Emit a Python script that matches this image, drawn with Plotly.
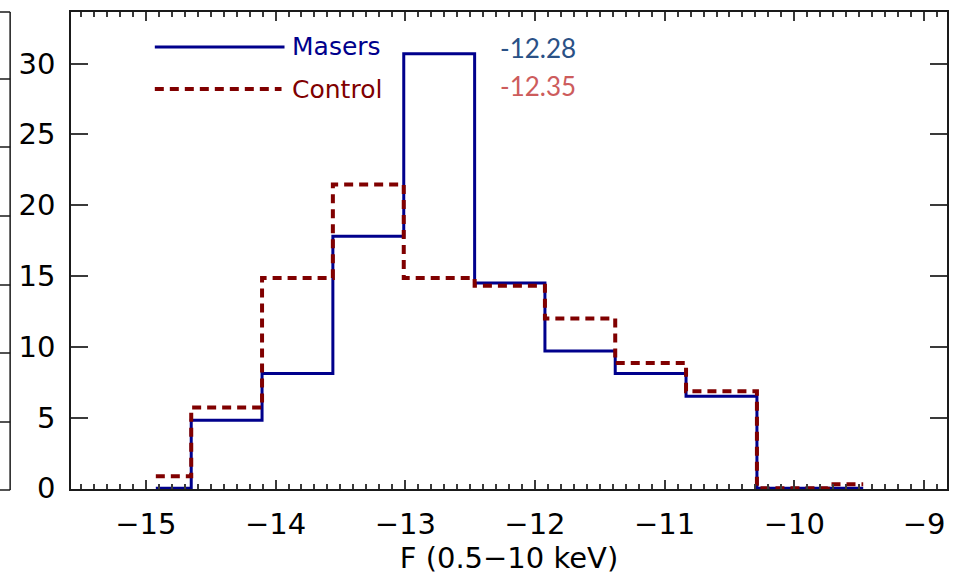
import plotly.graph_objects as go

# Histogram bin centres (log flux) and percentages per bin
flux_centres = [-14.923, -14.377, -13.831, -13.285, -12.738, -12.192,
                -11.654, -11.108, -10.562, -10.015, -9.469]
masers_pct = [0.0, 4.8, 8.1, 17.8, 30.7, 14.5, 9.7, 8.1, 6.5, 0.0, 0.0]
control_pct = [0.85, 5.7, 14.85, 21.45, 14.85, 14.3, 12.0, 8.85, 6.85, 0.0, 0.28]

x_tick_vals = [-15, -14, -13, -12, -11, -10, -9]
x_tick_text = ["\u221215", "\u221214", "\u221213", "\u221212", "\u221211", "\u221210", "\u22129"]
y_tick_vals = [0, 5, 10, 15, 20, 25, 30]

median_masers = "-12.28"
median_control = "-12.35"

BLUE = "#00008c"
RED = "#800000"
AXIS = "#1a1a1a"
TICK = "#3a3a3a"
FONT = "DejaVu Sans"

W, H = 958, 577
L, R, T, B = 71, 9, 12, 88
PW, PH = W - L - R, H - T - B


def px(x):
    return (x - L) / PW


def py(y):
    return (H - B - y) / PH


fig = go.Figure()
fig.add_trace(go.Scatter(
    x=flux_centres, y=masers_pct, mode="lines", line_shape="hvh",
    line=dict(color=BLUE, width=3), showlegend=False, hoverinfo="skip"))
fig.add_trace(go.Scatter(
    x=flux_centres, y=control_pct, mode="lines", line_shape="hvh",
    line=dict(color=RED, width=4, dash="9px,6px"), showlegend=False, hoverinfo="skip"))

shapes = []
# legend keys
shapes.append(dict(type="line", xref="paper", yref="paper",
                   x0=px(155), x1=px(285), y0=py(47), y1=py(47),
                   line=dict(color=BLUE, width=3)))
shapes.append(dict(type="line", xref="paper", yref="paper",
                   x0=px(155), x1=px(282), y0=py(89), y1=py(89),
                   line=dict(color=RED, width=4, dash="9px,6px")))
# edge of the neighbouring panel on the left
shapes.append(dict(type="line", xref="paper", yref="paper",
                   x0=px(10), x1=px(10), y0=py(12), y1=py(490),
                   line=dict(color=AXIS, width=1.5)))
for yy in [12, 79, 147, 216, 285, 353, 422, 490]:
    shapes.append(dict(type="line", xref="paper", yref="paper",
                       x0=px(-2), x1=px(10), y0=py(yy), y1=py(yy),
                       line=dict(color=AXIS, width=1.5)))

annotations = [
    dict(text="Masers", x=px(290), y=py(47), xref="paper", yref="paper",
         xanchor="left", yanchor="middle", showarrow=False,
         font=dict(family=FONT, size=25, color=BLUE)),
    dict(text="Control", x=px(290), y=py(89), xref="paper", yref="paper",
         xanchor="left", yanchor="middle", showarrow=False,
         font=dict(family=FONT, size=25, color=RED)),
    dict(text=median_masers, x=px(499), y=py(48), xref="paper", yref="paper",
         xanchor="left", yanchor="middle", showarrow=False,
         font=dict(family="Lato", size=26, color="#2a5186")),
    dict(text=median_control, x=px(499), y=py(86), xref="paper", yref="paper",
         xanchor="left", yanchor="middle", showarrow=False,
         font=dict(family="Lato", size=26, color="#cd5c5c")),
]

fig.update_layout(
    width=W, height=H,
    margin=dict(l=L, r=R, t=T, b=B),
    paper_bgcolor="white", plot_bgcolor="white",
    shapes=shapes, annotations=annotations,
    font=dict(family=FONT, size=29, color="black"),
    xaxis=dict(
        range=[-15.577, -8.823], tickmode="array",
        tickvals=x_tick_vals, ticktext=x_tick_text,
        ticks="inside", ticklen=9, tickwidth=1.5, tickcolor=TICK,
        minor=dict(dtick=0.1, tick0=-15, ticks="inside", ticklen=5,
                   tickwidth=1.5, tickcolor=TICK),
        showline=True, linecolor=AXIS, linewidth=1.5, mirror="allticks",
        showgrid=False, zeroline=False,
        tickfont=dict(family=FONT, size=29),
        ticklabelstandoff=8,
        title=dict(text="F (0.5\u221210 keV)", font=dict(family=FONT, size=29),
                   standoff=6),
    ),
    yaxis=dict(
        range=[-0.05, 33.64], tickmode="array", tickvals=y_tick_vals,
        ticks="inside", ticklen=17, tickwidth=1.5, tickcolor=TICK,
        showline=True, linecolor=AXIS, linewidth=1.5, mirror="allticks",
        showgrid=False, zeroline=False,
        tickfont=dict(family=FONT, size=29),
        ticklabelstandoff=8,
    ),
)

fig.write_html("out.html")
